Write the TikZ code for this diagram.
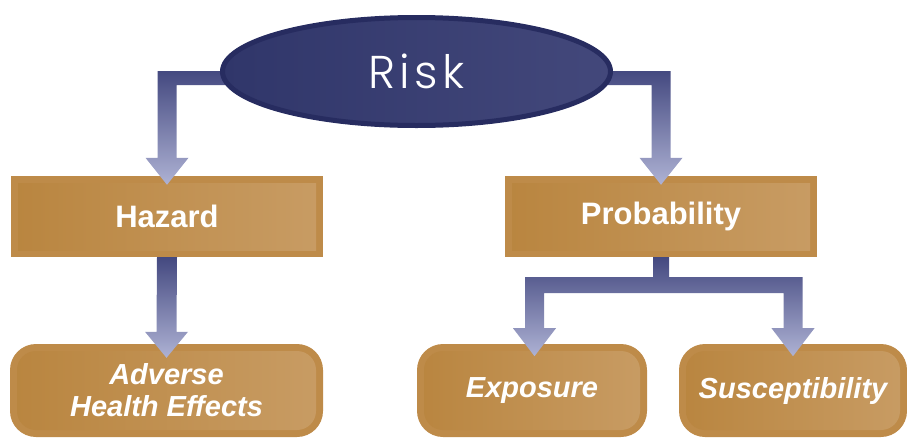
\documentclass[tikz,border=0pt]{standalone}
\usepackage{fontspec}
\setmainfont{Liberation Sans}
\newfontfamily\riskfont[LetterSpace=10.0]{Poppins Light}
\usetikzlibrary{calc,shapes.geometric}
\definecolor{navydark}{HTML}{272C60}
\definecolor{navyfill}{HTML}{30366A}
\definecolor{navylight}{HTML}{43487B}
\definecolor{goldrim}{HTML}{BE8B49}
\definecolor{goldleft}{HTML}{B9853F}
\definecolor{goldright}{HTML}{C89C64}
\definecolor{arrowtop}{HTML}{444980}
\definecolor{arrowbottom}{HTML}{AEB2D4}
\pgfdeclarelayer{front}
\pgfsetlayers{main,front}
\tikzset{
	goldbox/.style={rectangle, fill=goldrim, inner sep=0pt, minimum width=312pt, minimum height=81pt, text=white, font=\bfseries\fontsize{31}{36}\selectfont,
		path picture={\shade[left color=goldleft, right color=goldright] ($(path picture bounding box.south west)+(7pt,7pt)$) rectangle ($(path picture bounding box.north east)+(-7pt,-7pt)$);}},
	goldround/.style={rectangle, rounded corners=26pt, fill=goldrim, inner sep=0pt, minimum height=93pt, text=white, align=center, font=\bfseries\itshape\fontsize{29}{32}\selectfont,
		path picture={\shade[left color=goldleft, right color=goldright, rounded corners=19pt] ($(path picture bounding box.south west)+(7pt,7pt)$) rectangle ($(path picture bounding box.north east)+(-7pt,-7pt)$);}},
	blockarrow/.style={top color=arrowtop, bottom color=arrowbottom}
}

\begin{document}
\begin{tikzpicture}[x=1pt, y=-1pt]
			%%%%% START %%%%%
			\useasboundingbox (0, 0) rectangle (907, 437);
			
			\begin{pgfonlayer}{front}
				\node[ellipse, draw=navydark, line width=5pt, left color=navyfill, right color=navylight, minimum width=388pt, minimum height=108pt, text=white, font=\riskfont\fontsize{46}{52}\selectfont] (risk) at (416.5, 71.5) {Risk};
			\end{pgfonlayer}
			
			\node[goldbox] (hazard) at (167, 216.5) {Hazard};
			\node[goldbox] (prob) at (661, 216.5) {Probability};
			
			\node[goldround, minimum width=313pt] (adverse) at (166.5, 390.5) {Adverse\\Health Effects};
			\node[goldround, minimum width=230pt] (exposure) at (532, 390.5) {Exposure};
			\node[goldround, minimum width=228pt] (suscept) at (793, 390.5) {Susceptibility};
			
			\coordinate (hzbend) at (hazard.north |- risk.west);
			\coordinate (prbend) at (prob.north |- risk.east);
			\coordinate (expbend) at ($(exposure.north |- prob.south)+(2.5, 20)$);
			\coordinate (susbend) at ($(suscept.north |- prob.south)+(0, 20)$);
			
			% risk -> hazard
			\shade[blockarrow] ($(risk.west)+(40, -0.5)$) -- ($(hzbend)+(-9.5, -0.5)$) -- ($(hazard.north)+(-9.5, -18)$) -- ($(hazard.north)+(-21.5, -18)$) -- ($(hazard.north)+(0, 9)$) -- ($(hazard.north)+(21.5, -18)$) -- ($(hazard.north)+(9.5, -18)$) -- ($(hzbend)+(9.5, 13.5)$) -- ($(risk.west)+(40, 13.5)$) -- cycle;
			
			% risk -> probability
			\shade[blockarrow] ($(risk.east)+(-40, -0.5)$) -- ($(prbend)+(9.5, -0.5)$) -- ($(prob.north)+(9.5, -18)$) -- ($(prob.north)+(21.5, -18)$) -- ($(prob.north)+(0, 9)$) -- ($(prob.north)+(-21.5, -18)$) -- ($(prob.north)+(-9.5, -18)$) -- ($(prbend)+(-9.5, 13.5)$) -- ($(risk.east)+(-40, 13.5)$) -- cycle;
			
			% hazard -> adverse
			\shade[blockarrow] ($(hazard.south)+(-10, 0)$) -- ($(adverse.north)+(-10, -12)$) -- ($(adverse.north)+(-21.5, -12)$) -- ($(adverse.north)+(0, 14)$) -- ($(adverse.north)+(21.5, -12)$) -- ($(adverse.north)+(10, -12)$) -- ($(hazard.south)+(10, 0)$) -- cycle;
			
			% probability -> exposure, susceptibility
			\shade[blockarrow] ($(prob.south)+(-8, 0)$) -- ($(prob.south)+(-8, 20)$) -- ($(expbend)+(-9.5, 0)$) -- ($(expbend)+(-9.5, 51)$) -- ($(expbend)+(-21.5, 51)$) -- ($(expbend)+(0, 79)$) -- ($(expbend)+(21.5, 51)$) -- ($(expbend)+(9.5, 51)$) -- ($(expbend)+(9.5, 16)$) -- ($(susbend)+(-9.5, 16)$) -- ($(susbend)+(-9.5, 51)$) -- ($(susbend)+(-21.5, 51)$) -- ($(susbend)+(0, 79)$) -- ($(susbend)+(21.5, 51)$) -- ($(susbend)+(9.5, 51)$) -- ($(susbend)+(9.5, 0)$) -- ($(prob.south)+(8, 20)$) -- ($(prob.south)+(8, 0)$) -- cycle;
			
			%%%%% END %%%%%
\end{tikzpicture}
\end{document}
